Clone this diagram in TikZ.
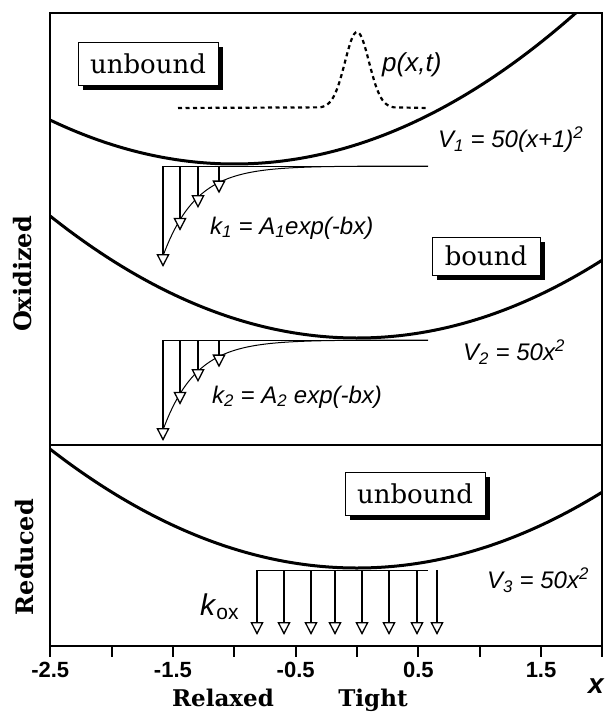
\documentclass[tikz,border=0pt]{standalone}
\usepackage{fontspec}
\newfontfamily\sansf{Liberation Sans}
\newfontfamily\serf{DejaVu Serif}
\usetikzlibrary{arrows.meta,shadows}
\begin{document}
\begin{tikzpicture}[x=1pt,y=-1pt,
  pot/.style={line width=3pt},
  framel/.style={line width=2.5pt},
  thinl/.style={line width=1pt},
  ratearr/.style={line width=2pt,-{Triangle[length=13pt,width=13pt,fill=white,line width'=1.3pt]}},
  dens/.style={line width=2.2pt,dash pattern=on 4pt off 3.5pt},
  boxlbl/.style={draw,line width=0.8pt,fill=white,inner xsep=0pt,
    font=\serf\fontsize{26}{28}\selectfont,
    drop shadow={shadow xshift=5pt,shadow yshift=-5pt,fill=black,opacity=1}},
  eqlbl/.style={font=\sansf\itshape\fontsize{24}{26}\selectfont,inner sep=0pt,anchor=west},
  ticklbl/.style={font=\sansf\bfseries\fontsize{22}{24}\selectfont,inner sep=0pt},
  sidelbl/.style={font=\serf\bfseries\fontsize{24}{26}\selectfont,rotate=90,inner sep=0pt},
  axlbl/.style={font=\serf\bfseries\fontsize{23}{25}\selectfont,inner sep=0pt,anchor=base},
  tickl/.style={line width=2pt}]
\useasboundingbox (0,0) rectangle (607,715);
\fill[white] (0,0) rectangle (607,715);

% potential curves
\begin{scope}
  \clip (50,13) rectangle (602,646);
  \draw[pot] plot[domain=-2.5:2.0,samples=120] ({357+122.7*\x},{164-19.5*(\x+1)*(\x+1)});
  \draw[pot] plot[domain=-2.5:2.0,samples=120] ({357+122.7*\x},{338-19.5*\x*\x});
  \draw[pot] plot[domain=-2.5:2.0,samples=120] ({357+122.7*\x},{568-19*\x*\x});
\end{scope}

% density p(x,t)
\draw[dens] (178,108) -- plot[domain=320:394,samples=80] (\x,{108-76*exp(-((\x-357)/12)*((\x-357)/12)/2)}) -- (428,108);

% rate panels k1, k2
\foreach \base/\pre in {166/a,340/b}{
  \coordinate (\pre L) at (163,\base);
  \coordinate (\pre R) at (428,\base);
  \draw[thinl] (\pre L) -- (\pre R);
  \draw[thinl] plot[domain=163:428,samples=120] (\x,{\base+90*exp(-(\x-163)/33)});
  \foreach \xx/\n in {163/1,180/2,198/3,219/4}{
    \pgfmathsetmacro\ty{\base+11+90*exp(-(\xx-163)/33)}
    \coordinate (\pre s\n) at (\xx,\base);
    \coordinate (\pre t\n) at (\xx,\ty);
    \draw[ratearr] (\pre s\n) -- (\pre t\n);
  }
}

% kox panel
\coordinate (cL) at (257,570);
\coordinate (cR) at (428,570);
\draw[thinl] (cL) -- (cR);
\foreach \xx/\n in {257/1,284/2,311/3,335/4,362/5,389/6,417/7,437/8}{
  \coordinate (cs\n) at (\xx,570);
  \coordinate (ct\n) at (\xx,635);
  \draw[ratearr] (cs\n) -- (ct\n);
}

% frame
\draw[framel] (50,13) rectangle (602,646);
\draw[framel] (50,445) -- (602,445);
\foreach \u in {-2.5,-2.0,...,2.0}{
  \draw[tickl] ({357+122.7*\u},646) -- ({357+122.7*\u},657);
}

% boxes
\node[boxlbl,minimum width=140pt,minimum height=43pt] (ub1) at (148,63.5) {unbound};
\node[boxlbl,minimum width=108pt,minimum height=38pt] (bd) at (486,256) {bound};
\node[boxlbl,minimum width=140pt,minimum height=43pt] (ub2) at (415,493.5) {unbound};

% labels
\node[eqlbl,font=\sansf\itshape\fontsize{26}{28}\selectfont] (pxt) at (382,65) {p(x,t)};
\node[eqlbl] (v1) at (438,140) {V\textsubscript{1} = 50(x+1)\textsuperscript{2}};
\node[eqlbl] (k1) at (210,228) {k\textsubscript{1} = A\textsubscript{1}exp(-bx)};
\node[eqlbl] (v2) at (463,352) {V\textsubscript{2} = 50x\textsuperscript{2}};
\node[eqlbl] (k2) at (212,397) {k\textsubscript{2} = A\textsubscript{2} exp(-bx)};
\node[eqlbl] (v3) at (487,580) {V\textsubscript{3} = 50x\textsuperscript{2}};
\node[eqlbl,font=\sansf\fontsize{30}{32}\selectfont] (kox) at (200,607) {\textit{k}\textsubscript{ox}};

\node[sidelbl] (ox) at (23,274) {Oxidized};
\node[sidelbl] (red) at (25,557) {Reduced};

\foreach \u/\t in {-2.5/-2.5,-1.5/-1.5,-0.5/-0.5,0.5/0.5,1.5/1.5}{
  \node[ticklbl] (tk\t) at ({357+122.7*\u},670) {\t};
}
\node[font=\sansf\bfseries\itshape\fontsize{28}{30}\selectfont,inner sep=0pt] (xl) at (596,686) {x};
\node[axlbl] (rel) at (223,706) {Relaxed};
\node[axlbl] (tig) at (373,706) {Tight};
\end{tikzpicture}
\end{document}
